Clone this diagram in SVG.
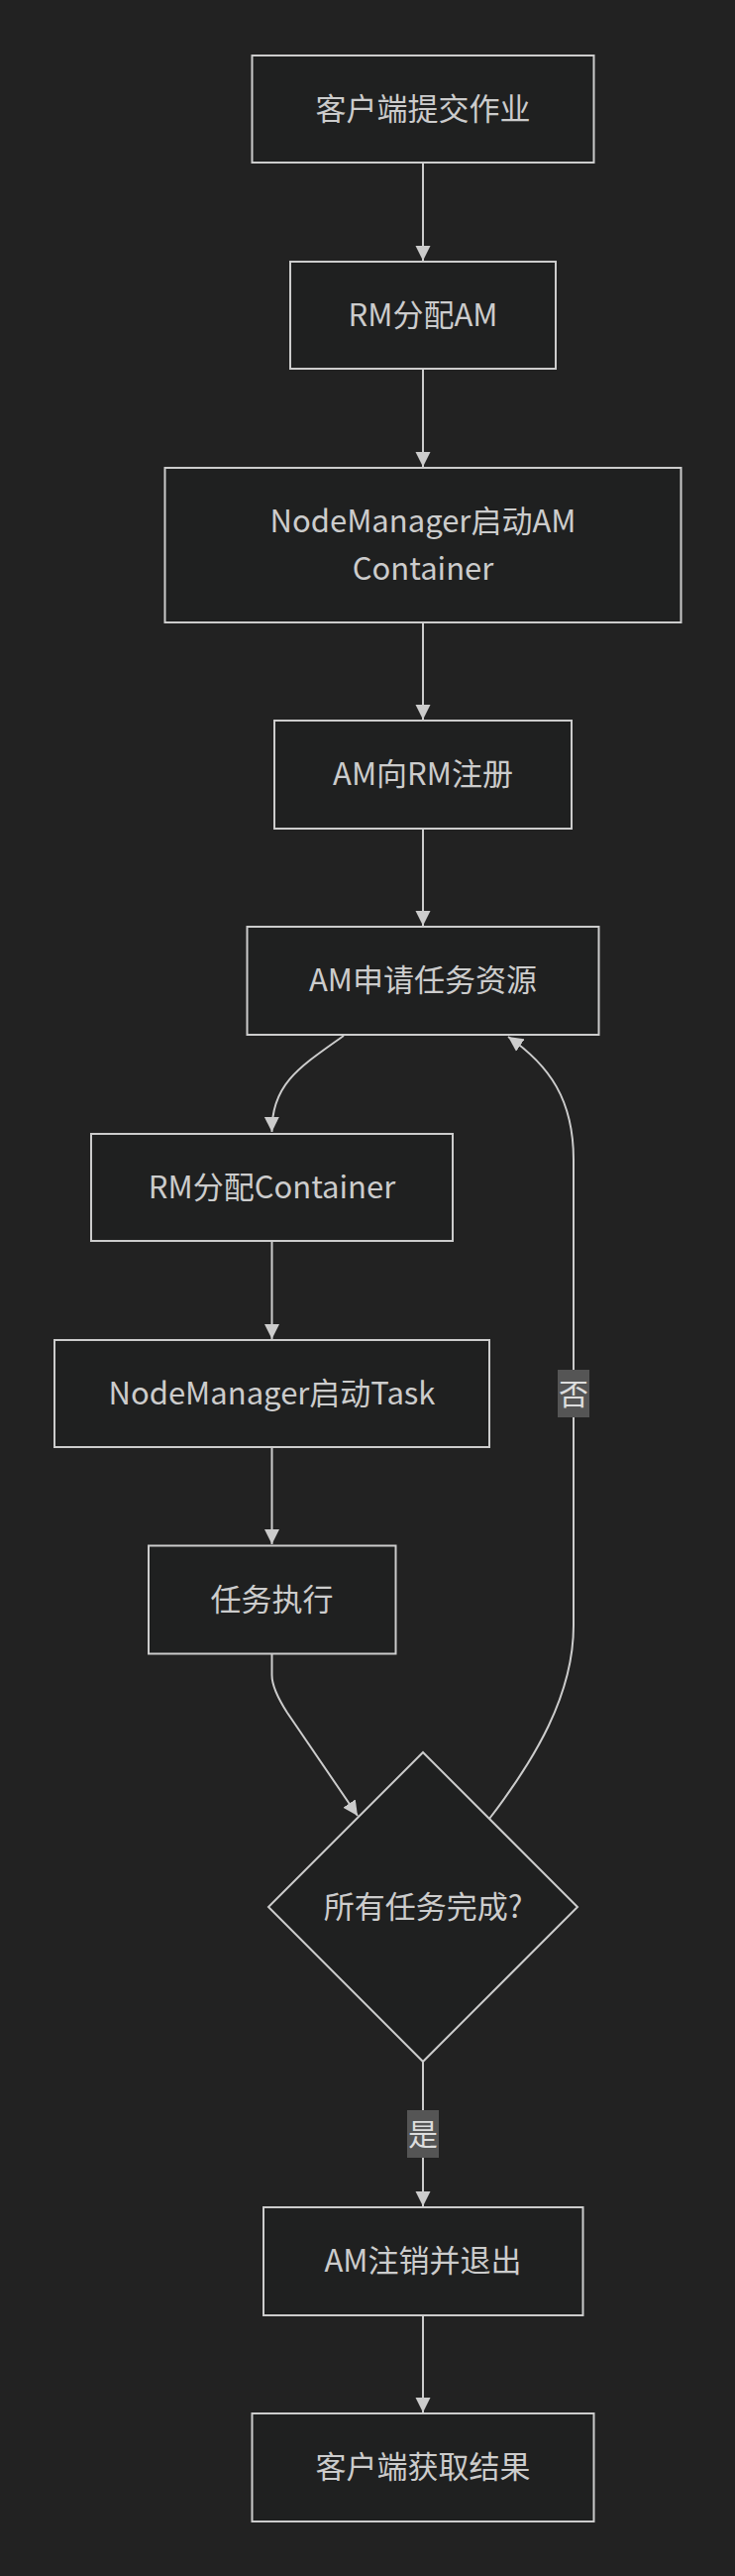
<svg xmlns="http://www.w3.org/2000/svg" width="742" height="2599" viewBox="0 0 742 2599">
<style>
.bg{fill:#222222}
.node rect,.node polygon{fill:#1f2020;stroke:#cccccc;stroke-width:2}
.node text{fill:#cccccc;font-family:"Noto Sans CJK SC","Noto Sans",sans-serif;font-size:31px;text-anchor:middle;dominant-baseline:central}
.edges path{fill:none;stroke:#cccccc;stroke-width:2}
.lbl rect{fill:#555555}
.lbl text{fill:#dddddd;font-family:"Noto Sans CJK SC","Noto Sans",sans-serif;font-size:30px;text-anchor:middle;dominant-baseline:central}
</style>
<defs>
<marker id="arr" viewBox="0 0 10 10" refX="10" refY="5" markerWidth="15" markerHeight="16" markerUnits="userSpaceOnUse" orient="auto">
<path d="M0,0 L10,5 L0,10 z" fill="#cccccc"/>
</marker>
</defs>
<rect class="bg" x="0" y="0" width="742" height="2599"/>
<g id="edges" class="edges">
<path d="M427,165 L427,263" marker-end="url(#arr)"/>
<path d="M427,373 L427,471" marker-end="url(#arr)"/>
<path d="M427,629 L427,726" marker-end="url(#arr)"/>
<path d="M427,837 L427,934" marker-end="url(#arr)"/>
<path d="M347,1045 C300,1078 274,1095 274.5,1142" marker-end="url(#arr)"/>
<path d="M274.5,1253 L274.5,1351" marker-end="url(#arr)"/>
<path d="M274.5,1461 L274.5,1558" marker-end="url(#arr)"/>
<path d="M274.5,1669 L274.5,1690 Q274.5,1704 290,1728 L361,1832" marker-end="url(#arr)"/>
<path d="M494,1835 C540,1775 579,1710 579,1640 L579,1170 C579,1110 555,1075 513,1046" marker-end="url(#arr)"/>
<path d="M427,2080 L427,2226" marker-end="url(#arr)"/>
<path d="M427,2337 L427,2434" marker-end="url(#arr)"/>
</g>
<g id="label-no" class="lbl">
<rect x="563" y="1382" width="32" height="48"/>
<text x="579" y="1404">否</text>
</g>
<g id="label-yes" class="lbl">
<rect x="411" y="2129" width="32" height="48"/>
<text x="427" y="2151">是</text>
</g>
<g id="n1" class="node">
<rect x="254.5" y="56" width="345" height="108"/>
<text x="427" y="107">客户端提交作业</text>
</g>
<g id="n2" class="node">
<rect x="293" y="264" width="268" height="108"/>
<text x="427" y="315">RM分配AM</text>
</g>
<g id="n3" class="node">
<rect x="166.5" y="472" width="521" height="156"/>
<text x="427" y="523">NodeManager启动AM</text>
<text x="427" y="571">Container</text>
</g>
<g id="n4" class="node">
<rect x="277" y="727" width="300" height="109"/>
<text x="427" y="778.5">AM向RM注册</text>
</g>
<g id="n5" class="node">
<rect x="249.5" y="935" width="355" height="109"/>
<text x="427" y="986.5">AM申请任务资源</text>
</g>
<g id="n6" class="node">
<rect x="92" y="1144" width="365" height="108"/>
<text x="274.5" y="1195">RM分配Container</text>
</g>
<g id="n7" class="node">
<rect x="55" y="1352" width="439" height="108"/>
<text x="274.5" y="1403">NodeManager启动Task</text>
</g>
<g id="n8" class="node">
<rect x="150" y="1559.5" width="249.5" height="109"/>
<text x="274.5" y="1611">任务执行</text>
</g>
<g id="n9" class="node">
<polygon points="427,1768 583,1924 427,2080 271,1924"/>
<text x="427" y="1921">所有任务完成?</text>
</g>
<g id="n10" class="node">
<rect x="266" y="2227" width="322.5" height="109"/>
<text x="427" y="2278.5">AM注销并退出</text>
</g>
<g id="n11" class="node">
<rect x="254.5" y="2435" width="345" height="109"/>
<text x="427" y="2486.5">客户端获取结果</text>
</g>
</svg>
